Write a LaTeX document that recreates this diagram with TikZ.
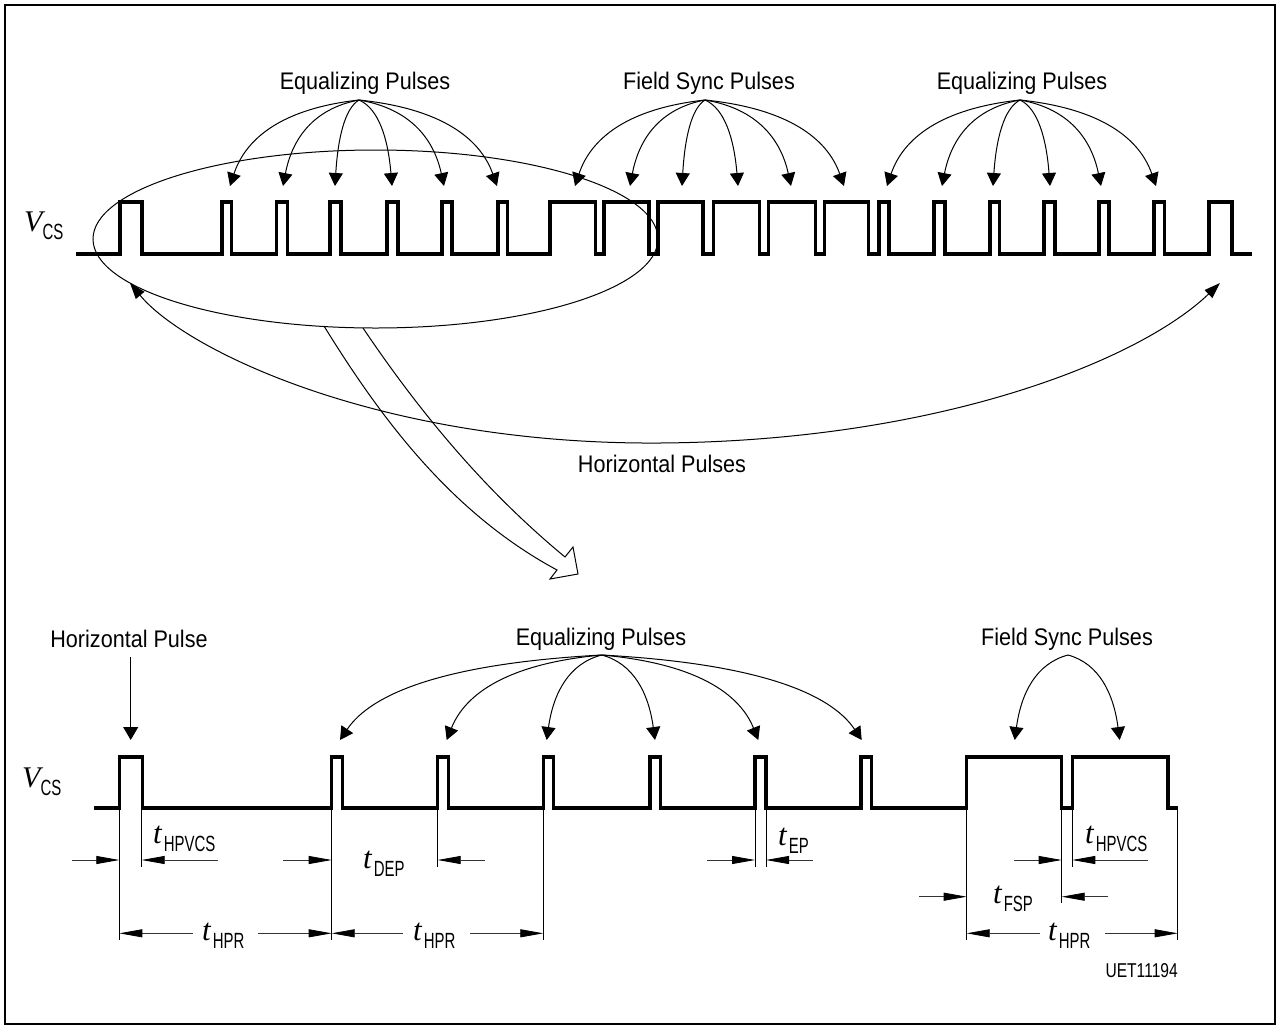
\documentclass[tikz,border=0pt]{standalone}
\usepackage{fontspec}
\setmainfont[FakeStretch=0.9]{Liberation Sans}
\newfontfamily\tserif{Liberation Serif}
\newfontfamily\subf[FakeStretch=0.68]{Liberation Sans}
\newfontfamily\codef[FakeStretch=0.78]{Liberation Sans}
\usetikzlibrary{arrows.meta,calc}

\newcommand\tsym{{\tserif\itshape\fontsize{31}{31}\selectfont t}}
\newcommand\tlab[1]{\tsym\kern2pt\raisebox{-8pt}{\subf\fontsize{22}{22}\selectfont #1}}
\newcommand\vlab{{\tserif\itshape\fontsize{30}{30}\selectfont V}\raisebox{-8pt}{\subf\fontsize{22}{22}\selectfont CS}}
\newcommand\pulsearrow[2]{\draw[thinln,-{Triangle[length=13pt,width=14pt]}] let \p1=(#1),\p2=(#2) in (#1) .. controls ({\x1+0.6*(\x2-\x1)},{\y1+0.1*(\y2-\y1)}) and ({\x2-0.12*(\x2-\x1)},{\y2-0.55*(\y2-\y1)}) .. (#2);}

\begin{document}
\begin{tikzpicture}[x=1pt,y=-1pt,
  thinln/.style={line width=1pt},
  wave/.style={line width=3.4pt,line join=miter},
  dim/.style={line width=0.8pt,black!80},
  ext/.style={line width=0.8pt},
  dimtip/.tip={Triangle[length=23pt,width=8pt,color=black]},
  every node/.style={inner sep=0pt,font=\fontsize{24}{28}\selectfont}]
\useasboundingbox (0,0) rectangle (1278,1026);
\draw[line width=2pt] (5,5) rectangle (1275,1023.5);

% ---------- top waveform ----------
\node[anchor=base west] (v1) at (24,231) {\vlab};
\draw[wave] (75.8,254) -- (120,254) |- (142,202) |- (222,254) |- (231.5,202) |- (276.5,254) |- (287.5,202)
 |- (330,254) |- (341,202) |- (387,254) |- (398,202) |- (442,254) |- (452,202) |- (498,254) |- (507.5,202)
 |- (550,254) |- (595.5,202) |- (604,254) |- (649,202) |- (658,254) |- (703,202) |- (713.5,254) |- (759.6,202)
 |- (768.6,254) |- (815.5,202) |- (824.5,254) |- (868.6,202) |- (878.8,254) |- (889,202) |- (934,254) |- (945,202)
 |- (990,254) |- (999.5,202) |- (1044,254) |- (1055,202) |- (1099,254) |- (1109,202) |- (1154,254) |- (1164.5,202)
 |- (1209,254) |- (1232,202) |- (1252,254);

% top labels and arrows
\node[anchor=base] (eq1) at (365,89) {Equalizing Pulses};
\node[anchor=base] (fs1) at (709,89) {Field Sync Pulses};
\node[anchor=base] (eq2) at (1022,89) {Equalizing Pulses};
\coordinate (eq1s) at (359,100);
\coordinate (fs1s) at (705,100);
\coordinate (eq2s) at (1020,100);
\foreach \tx [count=\i] in {230,283,335,392,444,497} {\coordinate (ta\i) at (\tx,186); \pulsearrow{eq1s}{ta\i}}
\foreach \tx [count=\i] in {575,630,682,738,791,844} {\coordinate (tf\i) at (\tx,186); \pulsearrow{fs1s}{tf\i}}
\foreach \tx [count=\i] in {887,942,993,1050,1101,1156} {\coordinate (te\i) at (\tx,186); \pulsearrow{eq2s}{te\i}}

% ellipse and zoom arrow
\draw[thinln] (375.5,239) ellipse [x radius=282.5pt, y radius=89pt];
\draw[thinln,line join=miter] (324,326) .. controls (385,425) and (455,515) .. (557,570) -- (550,579) -- (578,574) -- (573,547) -- (565,557) .. controls (490,495) and (425,420) .. (363,328);

% horizontal pulses arrow
\coordinate (hl) at (130,283);
\coordinate (hr) at (1220,283);
\draw[thinln,{Triangle[length=16pt,width=11pt]}-{Triangle[length=16pt,width=11pt]}] (hl) .. controls (185,350) and (380,445) .. (660,443) .. controls (940,441) and (1140,360) .. (hr);
\node[anchor=base] (hpl) at (662,472) {Horizontal Pulses};

% ---------- bottom waveform ----------
\node[anchor=base west] (v2) at (22,787) {\vlab};
\draw[wave] (94.3,808) -- (119.3,808) |- (142.3,757) |- (331.7,808) |- (342.3,757) |- (437.7,808) |- (448.3,757)
 |- (543.3,808) |- (553.5,757) |- (650,808) |- (660.7,757) |- (755,808) |- (766,757) |- (861,808) |- (871.7,757)
 |- (966.7,808) |- (1061.7,757) |- (1072.3,808) |- (1168,757) |- (1178,808);

\node[anchor=base] (hpb) at (129,647) {Horizontal Pulse};
\coordinate (hps) at (130.7,657);
\coordinate (hpt) at (130.7,740);
\draw[thinln,-{Triangle[length=13pt,width=15pt]}] (hps) -- (hpt);

\node[anchor=base] (eqb) at (601,645) {Equalizing Pulses};
\coordinate (eqbs) at (601.7,655);
\foreach \tx [count=\i] in {340,446.7,546.7,655,758.3,861.7} {\coordinate (tb\i) at (\tx,740); \pulsearrow{eqbs}{tb\i}}
\node[anchor=base] (fsb) at (1067,645) {Field Sync Pulses};
\coordinate (fsbs) at (1068,655);
\foreach \tx [count=\i] in {1014.7,1119.7} {\coordinate (tc\i) at (\tx,740); \pulsearrow{fsbs}{tc\i}}

% extension lines
\foreach \ex/\ey in {119.3/940,141.7/867,331.7/940,437.7/867,543.3/940,755/867,766/867,966.7/940,1061.7/903,1072.3/867,1177.7/940}
  \draw[ext] (\ex,808) -- (\ex,\ey);

% dimension arrows
\draw[dim,-dimtip] (72,860) -- (119.3,860);
\draw[dim,-dimtip] (218,860) -- (141.7,860);
\node[anchor=base west] (lhp1) at (153,843) {\tlab{HPVCS}};
\draw[dim,-dimtip] (283,860) -- (331.7,860);
\draw[dim,-dimtip] (485,860) -- (437.7,860);
\node[anchor=base west] (ldep) at (363,868) {\tlab{DEP}};
\draw[dim,-dimtip] (707,860) -- (755,860);
\draw[dim,-dimtip] (813,860) -- (766,860);
\node[anchor=base west] (lep) at (778,845) {\tlab{EP}};
\draw[dim,-dimtip] (1014,860) -- (1061.7,860);
\draw[dim,-dimtip] (1148,860) -- (1072.3,860);
\node[anchor=base west] (lhp2) at (1085,843) {\tlab{HPVCS}};
\draw[dim,-dimtip] (919.3,896.7) -- (966.7,896.7);
\draw[dim,-dimtip] (1108,896.7) -- (1061.7,896.7);
\node[anchor=base west] (lfsp) at (993,903) {\tlab{FSP}};

\draw[dim,dimtip-] (119.3,933.3) -- (193,933.3);
\draw[dim,-dimtip] (258,933.3) -- (331.7,933.3);
\node[anchor=base west] (lhpr1) at (202,940) {\tlab{HPR}};
\draw[dim,dimtip-] (331.7,933.3) -- (403,933.3);
\draw[dim,-dimtip] (470,933.3) -- (543.3,933.3);
\node[anchor=base west] (lhpr2) at (413,940) {\tlab{HPR}};
\draw[dim,dimtip-] (966.7,933.3) -- (1040,933.3);
\draw[dim,-dimtip] (1105,933.3) -- (1177.7,933.3);
\node[anchor=base west] (lhpr3) at (1048,940) {\tlab{HPR}};

\node[anchor=base east,font=\codef\fontsize{20}{22}\selectfont] (code) at (1178,977) {UET11194};
\end{tikzpicture}
\end{document}
